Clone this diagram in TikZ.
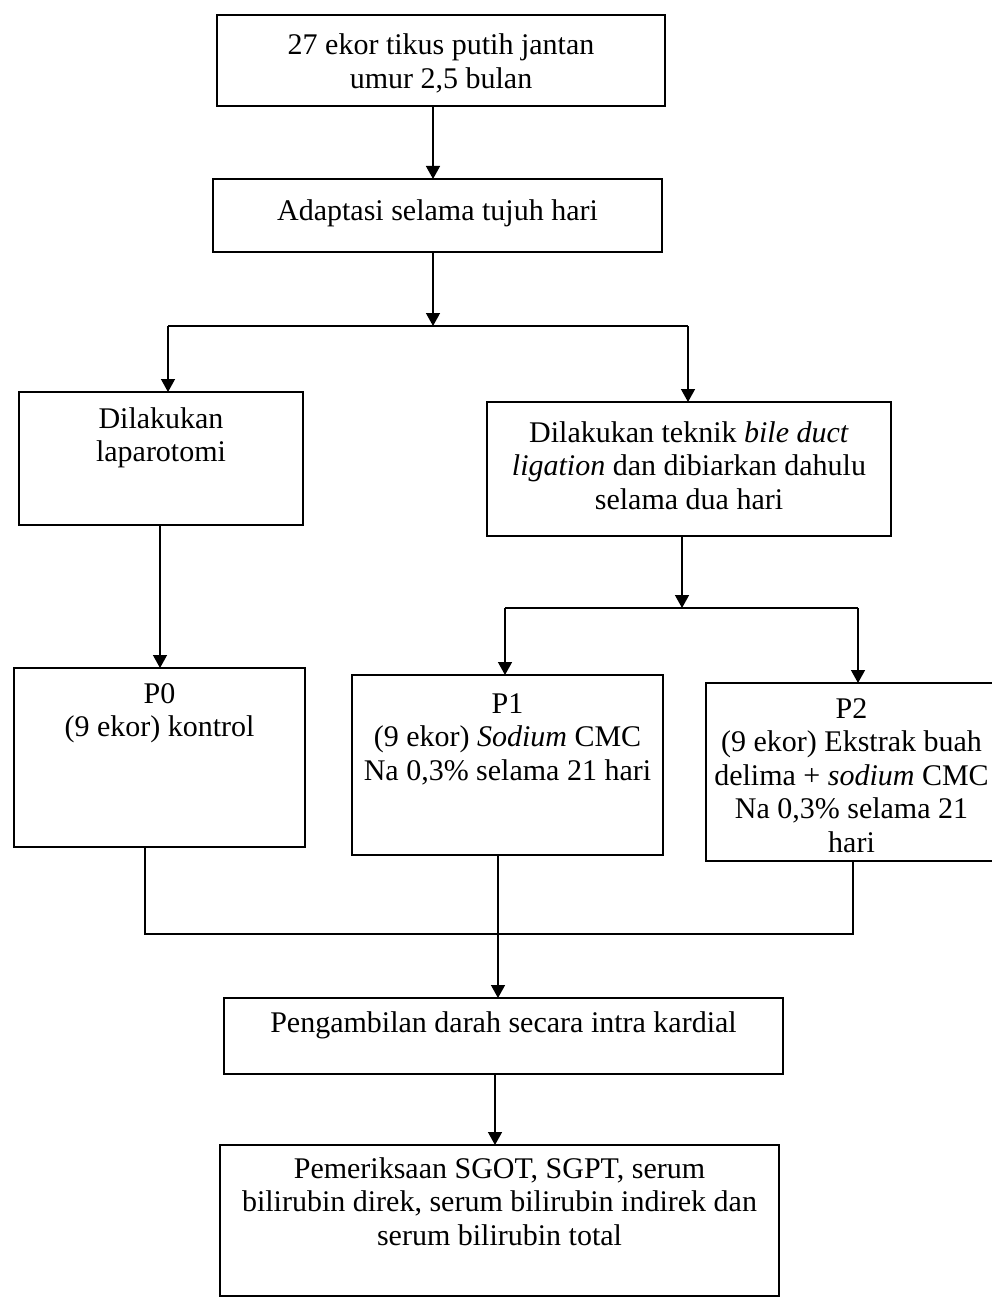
\documentclass[tikz,border=0pt]{standalone}
\usepackage{fontspec}
\setmainfont{Liberation Serif}
\usetikzlibrary{arrows.meta}
\newcommand{\flowtext}[4]{\parbox[t][#2pt][t]{#1pt}{\centering\rule{0pt}{#3pt}#4}}
\tikzset{
  flowbox/.style={draw, line width=1.5pt, inner sep=0pt, outer sep=0pt, anchor=north west,
    font=\fontsize{30pt}{33.5pt}\selectfont},
  arr/.style={line width=1.4pt, -{Triangle[length=13pt,width=14pt]}},
  ln/.style={line width=1.4pt}
}
\begin{document}
\begin{tikzpicture}[x=1pt, y=-1pt]
\fill[white] (0,0) rectangle (991,1300);
\useasboundingbox (0,0) rectangle (991,1300);

\node[flowbox] (b1) at (217,15) {\flowtext{448}{91}{40}{27 ekor tikus putih jantan\\ umur 2,5 bulan}};
\node[flowbox] (b2) at (213,179) {\flowtext{449}{73}{41}{Adaptasi selama tujuh hari}};
\node[flowbox] (b3) at (19,392) {\flowtext{284}{133}{36}{Dilakukan\\ laparotomi}};
\node[flowbox] (b4) at (487,402) {\flowtext{404}{134}{40}{Dilakukan teknik \textit{bile duct}\\ \textit{ligation} dan dibiarkan dahulu\\ selama dua hari}};
\node[flowbox] (p0) at (14,668) {\flowtext{291}{179}{35}{P0\\ (9 ekor) kontrol}};
\node[flowbox] (p1) at (352,675) {\flowtext{311}{180}{38}{P1\\ (9 ekor) \textit{Sodium} CMC\\ Na 0,3\% selama 21 hari}};
\node[flowbox] (p2) at (706,683) {\flowtext{291}{178}{35}{P2\\ (9 ekor) Ekstrak buah\\ delima + \textit{sodium} CMC\\ Na 0,3\% selama 21\\ hari}};
\node[flowbox] (b5) at (224,998) {\flowtext{559}{76}{34}{Pengambilan darah secara intra kardial}};
\node[flowbox] (b6) at (220,1145) {\flowtext{559}{151}{33}{Pemeriksaan SGOT, SGPT, serum\\ bilirubin direk, serum bilirubin indirek dan\\ serum bilirubin total}};

\coordinate (j1) at (433,326);
\coordinate (jL) at (168,326);
\coordinate (jR) at (688,326);
\coordinate (c0) at (160,0);
\coordinate (j2) at (682,608);
\coordinate (j2L) at (505,608);
\coordinate (j2R) at (858,608);
\coordinate (kL) at (145,934);
\coordinate (kR) at (853,934);
\coordinate (k1) at (498,0);
\coordinate (k2) at (495,0);

\draw[arr] (b1.south -| j1) -- (b2.north -| j1);
\draw[arr] (b2.south -| j1) -- (j1);
\draw[ln] (jL) -- (jR);
\draw[arr] (jL) -- (jL |- b3.north);
\draw[arr] (jR) -- (jR |- b4.north);
\draw[arr] (b3.south -| c0) -- (p0.north -| c0);
\draw[arr] (b4.south -| j2) -- (j2);
\draw[ln] (j2L) -- (j2R);
\draw[arr] (j2L) -- (j2L |- p1.north);
\draw[arr] (j2R) -- (j2R |- p2.north);
\draw[ln] (p0.south -| kL) -- (kL) -- (kR) -- (p2.south -| kR);
\draw[arr] (p1.south -| k1) -- (b5.north -| k1);
\draw[arr] (b5.south -| k2) -- (b6.north -| k2);
\end{tikzpicture}
\end{document}
